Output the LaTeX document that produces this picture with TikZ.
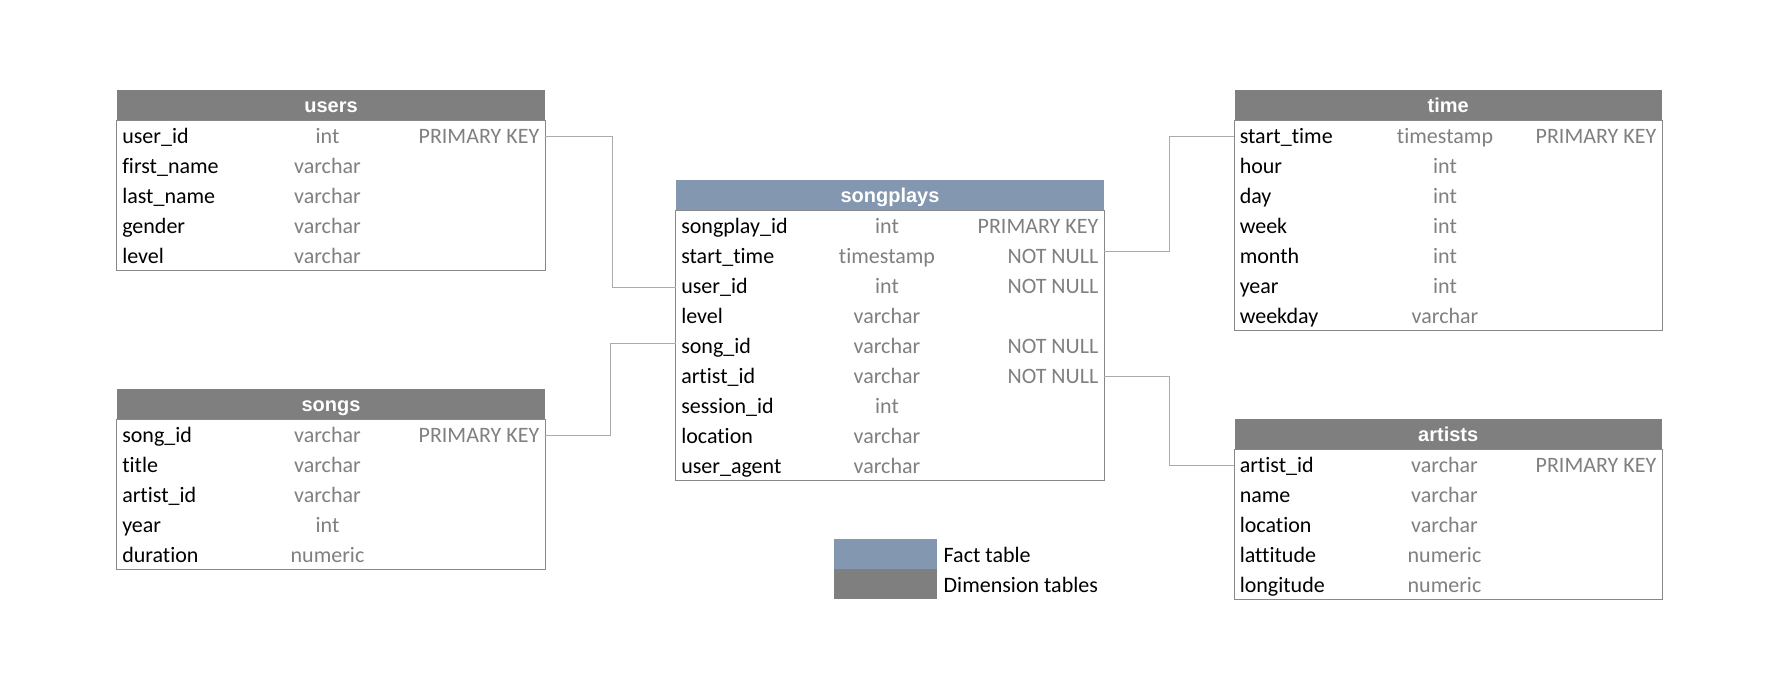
\documentclass[tikz,border=0pt]{standalone}
\usepackage{fontspec}
\setmainfont{Carlito}[Ligatures=NoCommon]
\newfontfamily\hdrfont{Liberation Sans}
\definecolor{dimgray}{HTML}{7F7F7F}
\definecolor{factblue}{HTML}{8497B0}
\definecolor{typegray}{HTML}{808080}
\definecolor{linkgray}{HTML}{ABABAB}
\definecolor{bordergray}{HTML}{888888}
\tikzset{
  hdr/.style={rectangle, inner sep=0pt, minimum height=22.5pt, text=white,
    text height=15pt, text depth=4pt, font=\hdrfont\bfseries\fontsize{15}{18}\selectfont},
  rowbox/.style={rectangle, inner sep=0pt, minimum height=22.5pt},
  tblborder/.style={draw=bordergray, line width=1pt},
  cell/.style={inner sep=0pt, text height=16pt, text depth=3.6pt, font=\fontsize{16.5}{19}\selectfont},
  fname/.style={cell, anchor=west, text=black},
  ftype/.style={cell, text=typegray},
  fcons/.style={cell, anchor=east, text=typegray},
  link/.style={draw=linkgray, line width=0.9pt},
  legbox/.style={rectangle, inner sep=0pt, minimum width=77.25pt, minimum height=22.5pt},
}
% #1 name, #2 left, #3 right, #4 top, #5 type centre, #6 title, #7 header colour, #8 rows, #9 row count
\newcommand\mktable[9]{%
  \pgfmathsetmacro\tblw{(#3-#2)*0.75}
  \node[hdr, fill=#7, minimum width=\tblw pt] (#1-h) at ({(#2+#3)/2},{#4+15}) {#6};
  \foreach \fn/\ft/\fc [count=\k] in {#8} {
    \node[rowbox, minimum width=\tblw pt] (#1-r\k) at ({(#2+#3)/2},{#4+15+30*\k}) {};
    \node[fname] at ({#2+5},{#4+15+30*\k}) {\fn};
    \node[ftype] at (#5,{#4+15+30*\k}) {\ft};
    \node[fcons] at ({#3-5.5},{#4+15+30*\k}) {\fc};
  }
  \draw[tblborder] (#1-h.south west) rectangle (#1-r#9.south east);
}
\begin{document}
\begin{tikzpicture}[x=0.75pt, y=-0.75pt]
\useasboundingbox[fill=white] (0,0) rectangle (1782,691);

\mktable{users}{117}{545}{90}{327.5}{users}{dimgray}{%
  user\_id/int/PRIMARY KEY, first\_name/varchar/, last\_name/varchar/,
  gender/varchar/, level/varchar/}{5}

\mktable{songs}{117}{545}{389}{327.5}{songs}{dimgray}{%
  song\_id/varchar/PRIMARY KEY, title/varchar/, artist\_id/varchar/,
  year/int/, duration/numeric/}{5}

\mktable{songplays}{676}{1104}{180}{887}{songplays}{factblue}{%
  songplay\_id/int/PRIMARY KEY, start\_time/timestamp/NOT NULL, user\_id/int/NOT NULL,
  level/varchar/, song\_id/varchar/NOT NULL, artist\_id/varchar/NOT NULL,
  session\_id/int/, location/varchar/, user\_agent/varchar/}{9}

\mktable{time}{1234.5}{1662}{90}{1445}{time}{dimgray}{%
  start\_time/timestamp/PRIMARY KEY, hour/int/, day/int/, week/int/,
  month/int/, year/int/, weekday/varchar/}{7}

\mktable{artists}{1234.5}{1662}{419}{1444.5}{artists}{dimgray}{%
  artist\_id/varchar/PRIMARY KEY, name/varchar/, location/varchar/,
  lattitude/numeric/, longitude/numeric/}{5}

% connectors
\draw[link] ([yshift=-1.2pt]users-r1.east) -- ++(67,0) |- ([yshift=-2pt]songplays-r3.west);
\draw[link] ([yshift=-1.2pt]songs-r1.east) -- ++(65,0) |- ([yshift=1.2pt]songplays-r5.west);
\draw[link] ([yshift=-1.2pt]time-r1.west) -- ++(-64.5,0) |- ([yshift=2.4pt]songplays-r2.east);
\draw[link] ([yshift=-1.2pt]artists-r1.west) -- ++(-64.5,0) |- ([yshift=-1.2pt]songplays-r6.east);

% legend
\node[legbox, fill=factblue] (leg-fact) at (885,554) {};
\node[legbox, fill=dimgray] (leg-dim) at (885,584) {};
\node[fname] (leg-fact-t) at ([xshift=5pt]leg-fact.east) {Fact table};
\node[fname] (leg-dim-t) at ([xshift=5pt]leg-dim.east) {Dimension tables};
\end{tikzpicture}
\end{document}
